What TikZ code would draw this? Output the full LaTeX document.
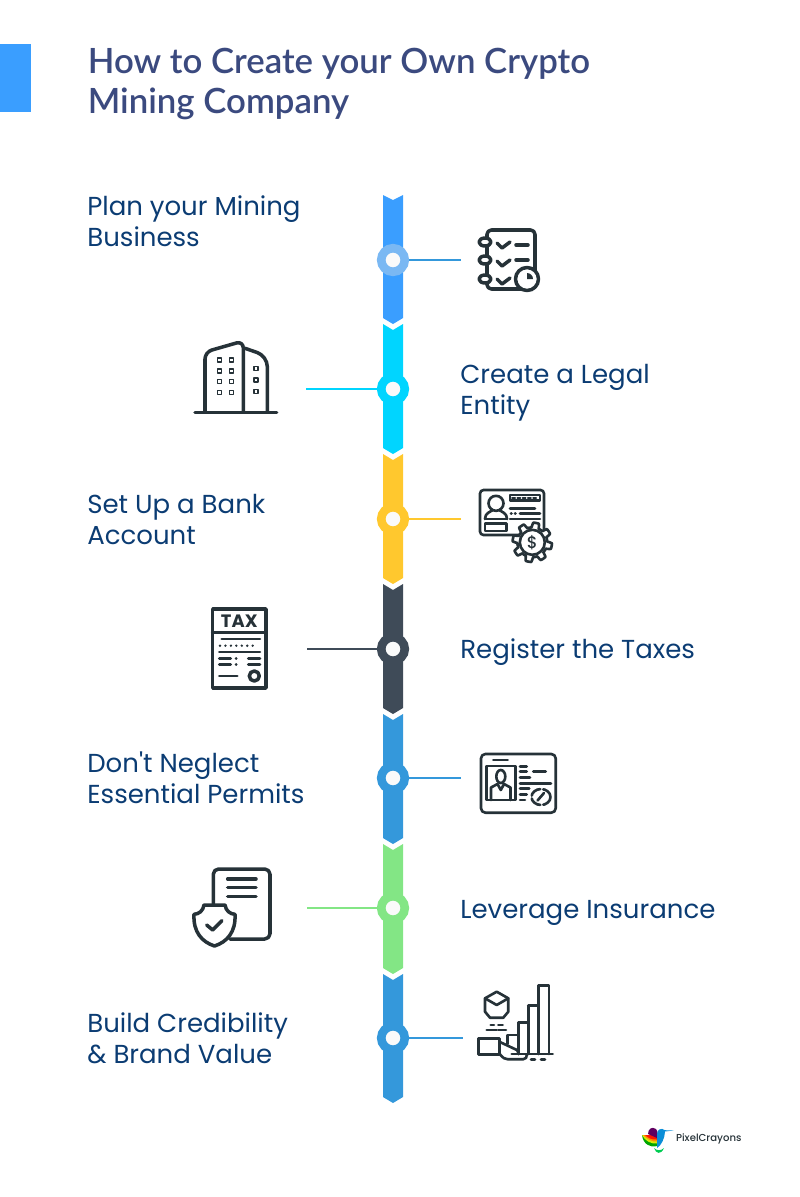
\documentclass[tikz,border=0pt]{standalone}
\usepackage{fontspec}
\setmainfont{Poppins}[Ligatures=TeXOff]
\newfontfamily\headfont{Poppins Medium}
\newfontfamily\titlefont{Lato Semibold}
\usepackage{tikz}

\definecolor{titlecol}{HTML}{3B4A7F}
\definecolor{textcol}{HTML}{0B3C73}
\definecolor{iconcol}{HTML}{263238}
\definecolor{headcol}{HTML}{3A9EFF}
\definecolor{segblue}{HTML}{3A9EFF}
\definecolor{segcyan}{HTML}{00D5FF}
\definecolor{segyellow}{HTML}{FFC82E}
\definecolor{segdark}{HTML}{3F4B58}
\definecolor{segsky}{HTML}{3498DB}
\definecolor{seggreen}{HTML}{83E685}
\definecolor{dotblue}{HTML}{7AB8F3}

\tikzset{
    steplabel/.style={anchor=west, inner sep=0pt, align=left, text=textcol,
        font=\fontsize{14.8pt}{17.6pt}\selectfont},
    dot/.style={circle, draw=#1, fill=white!98!black, line width=4.9pt,
        minimum size=13.4pt, inner sep=0pt},
    link/.style={draw=#1, line width=1.15pt},
    icon/.style={draw=iconcol, line width=2pt, line cap=round, line join=round},
    iconmid/.style={draw=iconcol, line width=1.5pt, line cap=round, line join=round},
    iconthin/.style={draw=iconcol, line width=0.9pt, line cap=round, line join=round},
    iconfill/.style={icon, fill=white}
}

\begin{document}
\begin{tikzpicture}[x=0.02cm, y=-0.02cm]
    \useasboundingbox (0,0) rectangle (800,1197);

    % header
    \fill[headcol] (0,44) rectangle (31,112);
    \node[anchor=west, inner sep=0pt, align=left, text=titlecol,
        font=\titlefont\fontsize{19.8pt}{23.3pt}\selectfont] (title) at (87.5,84)
        {How to Create your Own Crypto\\Mining Company};

    % timeline
    \fill[segblue] (383,195) -- (393,200) -- (403,195) -- (403,318) -- (393,324) -- (383,318) -- cycle;
    \fill[segcyan] (383,324) -- (393,330) -- (403,324) -- (403,448) -- (393,454) -- (383,448) -- cycle;
    \fill[segyellow] (383,454) -- (393,460) -- (403,454) -- (403,578) -- (393,584) -- (383,578) -- cycle;
    \fill[segdark] (383,584) -- (393,590) -- (403,584) -- (403,708) -- (393,714) -- (383,708) -- cycle;
    \fill[segsky] (383,714) -- (393,720) -- (403,714) -- (403,838) -- (393,844) -- (383,838) -- cycle;
    \fill[seggreen] (383,844) -- (393,850) -- (403,844) -- (403,968) -- (393,974) -- (383,968) -- cycle;
    \fill[segsky] (383,974) -- (393,980) -- (403,974) -- (403,1097) -- (393,1103) -- (383,1097) -- cycle;

    \coordinate (e1) at (461,260);
    \coordinate (e2) at (306,389);
    \coordinate (e3) at (461,519);
    \coordinate (e4) at (307,649);
    \coordinate (e5) at (461,778);
    \coordinate (e6) at (307,908);
    \coordinate (e7) at (463,1038);

    \node[dot=dotblue] (d1) at (393,260) {};
    \node[dot=segcyan] (d2) at (393,389) {};
    \node[dot=segyellow] (d3) at (393,519) {};
    \node[dot=segdark] (d4) at (393,649) {};
    \node[dot=segsky] (d5) at (393,778) {};
    \node[dot=seggreen] (d6) at (393,908) {};
    \node[dot=segsky] (d7) at (393,1038) {};

    \draw[link=segsky] (d1) -- (e1);
    \draw[link=segcyan] (d2) -- (e2);
    \draw[link=segyellow] (d3) -- (e3);
    \draw[link=segdark] (d4) -- (e4);
    \draw[link=segsky] (d5) -- (e5);
    \draw[link=seggreen] (d6) -- (e6);
    \draw[link=segsky] (d7) -- (e7);

    % labels
    \node[steplabel] (t1) at (87,221) {Plan your Mining\\Business};
    \node[steplabel] (t2) at (460,393) {Create a Legal\\Entity};
    \node[steplabel] (t3) at (87,519.5) {Set Up a Bank\\Account};
    \node[steplabel] (t4) at (460,652) {Register the Taxes};
    \node[steplabel] (t5) at (87,778) {Don't Neglect\\Essential Permits};
    \node[steplabel] (t6) at (460,913) {Leverage Insurance};
    \node[steplabel] (t7) at (87,1038) {Build Credibility\\\& Brand Value};

    % notebook
    \draw[icon, rounded corners=2.5] (487,230) rectangle (535,289);
    \draw[iconfill] (485,242) ellipse (6 and 4);
    \draw[iconfill] (485,260) ellipse (6 and 4);
    \draw[iconfill] (485,279) ellipse (6 and 4);
    \draw[icon] (497,243) -- (502,248) -- (510,242);
    \draw[icon] (497,261) -- (502,266) -- (510,260);
    \draw[icon] (497,279) -- (502,284) -- (510,278);
    \draw[icon] (516,245) -- (528,245);
    \draw[icon] (516,260) -- (528,260);
    \draw[iconfill] (527,279) circle (11.5);
    \fill[iconcol] (527,279) -- (527,273) arc (-90:0:6) -- cycle;

    % building
    \draw[icon] (195,412.3) -- (276.7,412.3);
    \draw[icon, rounded corners=4] (205,412) -- (205,352) -- (243.3,341) -- (243.3,412);
    \draw[icon, rounded corners=6] (245,348.3) -- (267.3,356) -- (267.3,412);
    \draw[iconthin] (217.5,358) rectangle (221.5,362);
    \draw[iconthin] (229.5,358) rectangle (233.5,362);
    \draw[iconthin] (217.5,369) rectangle (221.5,373);
    \draw[iconthin] (229.5,369) rectangle (233.5,373);
    \draw[iconthin] (217.5,379.5) rectangle (221.5,383.5);
    \draw[iconthin] (229.5,379.5) rectangle (233.5,383.5);
    \draw[iconthin] (217.5,390.5) rectangle (221.5,394.5);
    \draw[iconthin] (229.5,390.5) rectangle (233.5,394.5);
    \draw[iconthin] (254,366.5) rectangle (258,370.5);
    \draw[iconthin] (254,378) rectangle (258,382);
    \draw[iconthin] (254,389.5) rectangle (258,393.5);

    % bank card
    \draw[iconmid, rounded corners=2] (480,490) rectangle (544,535);
    \draw[iconmid] (496,503.3) circle (7.5);
    \draw[iconmid] (485,519) .. controls (485,513) and (490,512) .. (493,510);
    \draw[iconmid] (507,519) .. controls (507,513) and (502,512) .. (499,510);
    \draw[iconmid] (485,519) -- (507,519);
    \draw[iconmid] (485,523.5) rectangle (506.7,531);
    \draw[iconmid] (510,495) rectangle (540,500.7);
    \draw[iconthin, dash pattern=on 1.8pt off 1.2pt] (512,497.8) -- (538,497.8);
    \draw[iconmid] (510,508.3) -- (535,508.3);
    \draw[iconmid] (511,513.3) -- (511.5,513.3);
    \draw[iconmid] (515,513.3) -- (515.5,513.3);
    \draw[iconmid] (520,513.3) -- (540,513.3);
    \draw[iconmid] (510,519) -- (540,519);
    \draw[iconmid, fill=white] plot[domain=0:360, samples=289, variable=\t]
        ({532.3+(17.3+2.4*max(-1,min(1,2.5*sin(8*\t))))*cos(\t)}, {542.3+(17.3+2.4*max(-1,min(1,2.5*sin(8*\t))))*sin(\t)}) -- cycle;
    \draw[iconmid] (532.3,542.3) circle (12.5);
    \node[inner sep=0pt, text=iconcol, font=\headfont\fontsize{9.5pt}{9.5pt}\selectfont] (dollar) at (532.3,542.3) {\$};

    % tax sheet
    \draw[icon] (212.7,609) rectangle (266,688);
    \draw[icon] (212.7,632.3) -- (266,632.3);
    \node[inner sep=0pt, text=iconcol, font=\bfseries\fontsize{10.2pt}{10.2pt}\selectfont] (tax) at (239.3,621) {TAX};
    \draw[iconmid] (221.7,639) -- (260,639);
    \draw[iconmid, dash pattern=on 0pt off 3.1pt] (220,645.7) -- (258,645.7);
    \draw[iconmid] (219.3,652) -- (260,652);
    \draw[iconmid] (219.3,658.3) -- (230.7,658.3);
    \draw[iconmid] (236,658.3) -- (236.3,658.3);
    \draw[iconmid] (248.3,658.3) -- (260,658.3);
    \draw[iconmid] (219.3,664.7) -- (230.7,664.7);
    \draw[iconmid] (236,664.7) -- (236.3,664.7);
    \draw[iconmid] (248.3,664.7) -- (260,664.7);
    \draw[iconmid] (219.3,676) -- (237.3,676);
    \draw[icon] (254.3,676) circle (5);

    % permit card
    \draw[iconmid, rounded corners=2.5] (481,754) rectangle (555.7,812.7);
    \draw[iconmid] (493.3,760) -- (507.7,760);
    \draw[iconmid] (486.3,766) rectangle (515.3,800);
    \draw[iconmid] (500.8,776.5) ellipse (4.5 and 6.5);
    \draw[iconmid] (491,800) -- (491,787.5) -- (497.5,784) -- (500.8,790) -- (504,784) -- (510.5,787.5) -- (510.5,800);
    \draw[iconmid] (520,766.7) -- (526.7,766.7);
    \draw[iconmid] (520,771.7) -- (526.7,771.7);
    \draw[iconmid] (533.3,771.7) -- (545.7,771.7);
    \draw[iconmid] (520,777.7) -- (530,777.7);
    \draw[iconmid] (520,783.3) -- (551,783.3);
    \draw[iconmid] (520,788.3) -- (529.3,788.3);
    \draw[iconmid] (520,794.3) -- (526.7,794.3);
    \draw[iconmid] (520,800) -- (525,800);
    \draw[iconmid, dash pattern=on 6.5pt off 1.7pt] (541,797) ellipse (9.5 and 8);
    \draw[iconmid] (537.5,800.5) -- (544,793);

    % insurance paper
    \draw[icon, rounded corners=3] (213.3,905) -- (213.3,869) -- (270,869) -- (270,939) -- (230,939);
    \draw[icon] (227.7,879) -- (256,879);
    \draw[icon] (227.7,887.7) -- (256,887.7);
    \draw[icon] (227.7,896.3) -- (256,896.3);
    \draw[iconfill] (204,905) -- (225,905) .. controls (226,911) and (230,914) .. (235,914.3)
        .. controls (236,932) and (227,942) .. (214.5,946) .. controls (202,942) and (193,932) .. (194,914.3)
        .. controls (199,914) and (203,911) .. (204,905) -- cycle;
    \draw[icon] (206.7,925) -- (212.7,930) -- (222,920.7);

    % brand chart
    \draw[iconmid] (496.7,991.7) -- (508.3,998.3) -- (508.3,1011.7) -- (503.3,1017.7) -- (490,1017.7) -- (485,1011.7) -- (485,998.3) -- cycle;
    \draw[iconmid] (485,998.3) -- (496.7,1005) -- (508.3,998.3);
    \draw[iconmid] (490.7,1025) -- (494,1025);
    \draw[iconmid] (498.3,1025) -- (502.7,1025);
    \draw[iconmid] (486.7,1030) -- (496.7,1030);
    \draw[iconmid] (498.3,1030) -- (506,1030);
    \draw[iconmid] (478.3,1038.3) rectangle (499.3,1054.3);
    \draw[iconmid] (507.7,1044) -- (507.7,1035) -- (518.3,1035);
    \draw[iconmid] (518.3,1054) -- (518.3,1022.3) -- (528.3,1022.3) -- (528.3,1054);
    \draw[iconmid] (528.3,1005.7) -- (538.3,1005.7) -- (538.3,1054);
    \draw[iconmid] (538.3,1005.7) -- (538.3,985.7) -- (549,985.7) -- (549,1054);
    \draw[iconmid] (528.3,1022.3) -- (528.3,1005.7);
    \draw[iconmid] (511.7,1054) -- (552.7,1054);
    \draw[iconmid] (499.3,1041.7) -- (513.3,1048.3) .. controls (516,1049) and (518.3,1050) .. (518.3,1054);
    \draw[iconmid] (500,1054.3) .. controls (503,1058) and (505,1059.3) .. (508,1059.3) -- (523,1059.3) .. controls (526,1059.3) and (527,1057) .. (526.7,1055);
    \draw[iconmid] (531,1059.3) -- (535,1059.3);
    \draw[iconmid] (541,1059.3) -- (545,1059.3);

    % logo
    \fill[green!65!black] (642,1135) .. controls (643,1144) and (650,1148) .. (657,1146) -- (657,1135) -- cycle;
    \fill[yellow!85!green] (642,1135) .. controls (645,1141) and (651,1144) .. (657,1143.5) -- (657,1135) -- cycle;
    \fill[orange!90!yellow] (643,1135) .. controls (647,1139) and (652,1142) .. (657,1141.5) -- (657,1135) -- cycle;
    \fill[red!80!orange] (645,1135) .. controls (648,1138) and (652,1140) .. (657,1139.5) -- (657,1135) -- cycle;
    \fill[violet!75!black] (648,1134) .. controls (648,1129) and (652,1126) .. (656,1129) .. controls (658,1131) and (658,1136) .. (657,1138) -- cycle;
    \fill[cyan!75!blue] (673.5,1130.5) -- (665,1130.2) .. controls (661,1127) and (657,1130) .. (657,1134) -- (657,1148) .. controls (661,1146) and (665,1138) .. (665,1131.5) -- cycle;
    \fill[green!60!cyan!80!black] (654,1148) .. controls (656,1154) and (661,1155) .. (664,1148) .. controls (661,1151) and (657,1151) .. (654,1148) -- cycle;
    \node[anchor=west, inner sep=0pt, text=iconcol, font=\headfont\fontsize{5.75pt}{7pt}\selectfont] (brand) at (675.7,1139) {PixelCrayons};
\end{tikzpicture}
\end{document}
